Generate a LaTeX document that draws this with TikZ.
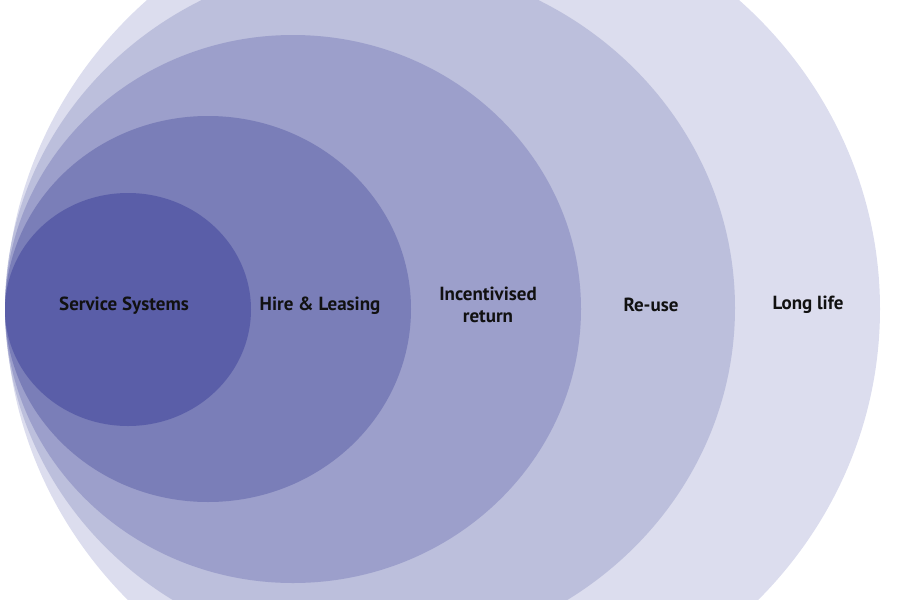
\documentclass[tikz,border=0pt]{standalone}
\usepackage{fontspec}
\setmainfont{PT Sans}
\usetikzlibrary{shapes.geometric}
\definecolor{lvlone}{HTML}{5A5EA8}
\definecolor{lvltwo}{HTML}{7A7EB8}
\definecolor{lvlthree}{HTML}{9C9FCB}
\definecolor{lvlfour}{HTML}{BCBFDC}
\definecolor{lvlfive}{HTML}{DCDDEE}
\definecolor{lvlink}{HTML}{111111}

\begin{document}
\begin{tikzpicture}[
  x=1pt, y=-1pt,
  ring/.style  = {ellipse, draw=none, inner sep=0pt, outer sep=0pt},
  tag/.style   = {font=\bfseries\fontsize{19}{22}\selectfont, text=lvlink,
                  align=center, inner sep=0pt},
]
\useasboundingbox (0,0) rectangle (900,600);
\clip (0,0) rectangle (900,600);
\node[ring, fill=lvlfive,  minimum width=874pt, minimum height=840pt] (e5) at (443,309) {};
\node[ring, fill=lvlfour,  minimum width=730pt, minimum height=694pt] (e4) at (370,308) {};
\node[ring, fill=lvlthree, minimum width=576pt, minimum height=548pt] (e3) at (293,309) {};
\node[ring, fill=lvltwo,   minimum width=406pt, minimum height=386pt] (e2) at (208,309) {};
\node[ring, fill=lvlone,   minimum width=246pt, minimum height=233pt] (e1) at (128,309.5) {};
\node[tag] (t1) at (124,306) {Service Systems};
\node[tag] (t2) at (320,306) {Hire \& Leasing};
\node[tag] (t3) at (488,305) {Incentivised\\return};
\node[tag] (t4) at (651,305) {Re-use};
\node[tag] (t5) at (808,305) {Long life};
\end{tikzpicture}
\end{document}
